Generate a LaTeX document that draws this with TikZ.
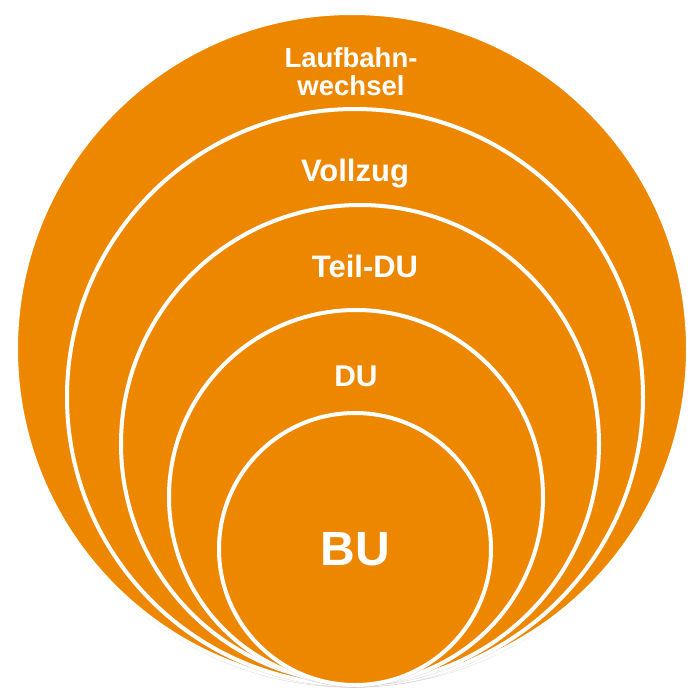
\documentclass[tikz,border=0pt]{standalone}
\usepackage{fontspec}
\setmainfont{Liberation Sans}
\usetikzlibrary{shadows}
\definecolor{ringorange}{RGB}{238,135,0}

\tikzset{
  ring/.style={draw=white, line width=4pt, fill=ringorange,
    drop shadow={opacity=0.3, shadow xshift=0pt, shadow yshift=-2.5pt}},
  lbl/.style={text=white, font=\bfseries, inner sep=0pt, align=center}
}

\begin{document}
\begin{tikzpicture}[x=1pt,y=-1pt]
    \useasboundingbox (0,0) rectangle (691,688);

    % rings, outer to inner
    \foreach \cx/\cy/\r in {352/349/336, 355/397/288, 360/444/239, 356/497/187, 355/549/136}{
      \draw[ring] (\cx,\cy) circle[radius=\r];
    }

    \node[lbl, font=\bfseries\fontsize{27.5}{28}\selectfont] (wechsel) at (351,72) {Laufbahn-\\wechsel};
    \node[lbl, anchor=base, font=\bfseries\fontsize{31}{34}\selectfont] (vollzug) at (355,181) {Vollzug};
    \node[lbl, anchor=base, font=\bfseries\fontsize{31}{34}\selectfont] (teildu) at (365,277) {Teil-DU};
    \node[lbl, anchor=base, font=\bfseries\fontsize{30}{32}\selectfont] (du) at (356,386) {DU};
    \node[lbl, anchor=base, font=\bfseries\fontsize{48}{52}\selectfont] (bu) at (355.5,565) {BU};

  \end{tikzpicture}
\end{document}
